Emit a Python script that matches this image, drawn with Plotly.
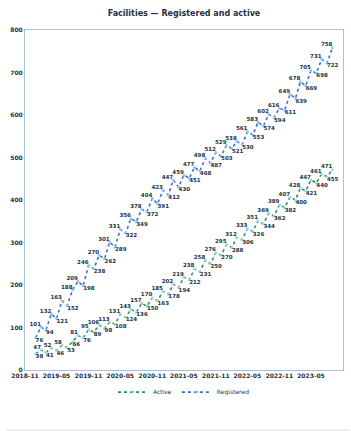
import pandas as pd
import plotly.graph_objects as go

# Monthly counts
months = pd.date_range("2019-01-01", periods=57, freq="MS")

registered = [76, 101, 94, 132, 121, 163, 152, 188, 209, 198, 246, 238, 270, 262, 301,
              289, 331, 322, 356, 349, 378, 372, 404, 391, 423, 412, 447, 430, 459, 451,
              477, 468, 498, 487, 512, 503, 529, 521, 538, 530, 561, 553, 583, 574, 602,
              594, 616, 611, 649, 639, 678, 669, 705, 698, 731, 722, 758]

active = [38, 47, 41, 52, 46, 58, 53, 66, 81, 76, 95, 89, 106, 98, 113, 108, 131, 124,
          143, 136, 157, 150, 170, 163, 185, 178, 202, 194, 219, 212, 238, 231, 258, 250,
          276, 270, 295, 288, 312, 306, 333, 326, 351, 344, 369, 362, 389, 382, 407, 400,
          428, 421, 447, 440, 461, 455, 471]

y_ticks = [0, 100, 200, 300, 400, 500, 600, 700, 800]

series = [
    ("Active", active, "#2e8b6e", "#9fdccc"),
    ("Registered", registered, "#3a6fc4", "#9cc6f0"),
]


def label_positions(vals):
    """Peaks get their label above-left, dips below-right."""
    out = []
    n = len(vals)
    for i in range(n):
        prev_v = vals[i - 1] if i > 0 else vals[i + 1]
        next_v = vals[i + 1] if i < n - 1 else vals[i - 1]
        peak = vals[i] >= (prev_v + next_v) / 2
        out.append("top left" if peak else "bottom right")
    return out


fig = go.Figure()
for name, vals, line_col, mark_col in series:
    fig.add_trace(go.Scatter(
        x=months, y=vals, name=name, mode="lines+markers",
        line=dict(color=line_col, width=1.6, dash="dot"),
        marker=dict(color=mark_col, size=3),
    ))
    fig.add_trace(go.Scatter(
        x=months, y=vals, mode="text", showlegend=False, hoverinfo="skip",
        text=["<b>%d</b>" % v for v in vals],
        textposition=label_positions(vals),
        textfont=dict(size=5.5, color="#223244", family="DejaVu Sans"),
    ))

fig.update_layout(
    width=351, height=431,
    margin=dict(l=25, r=8, t=30, b=61),
    paper_bgcolor="white", plot_bgcolor="white",
    font=dict(family="DejaVu Sans", size=7, color="#1f2f40"),
    title=dict(text="<b>Facilities — Registered and active</b>",
               x=0.5, xref="paper", xanchor="center",
               y=(431 - 13) / 431, yref="container", yanchor="middle",
               font=dict(size=8, color="#1f2f40")),
    legend=dict(orientation="h", x=0.5, xanchor="center", y=-0.065, yanchor="middle",
                font=dict(size=6), itemwidth=30, bgcolor="rgba(0,0,0,0)"),
    showlegend=True,
)
fig.update_xaxes(
    range=["2018-11-01", "2023-11-01"], dtick="M6", tick0="2018-11-01",
    tickformat="<b>%Y-%m</b>", tickfont=dict(size=6), showgrid=False, zeroline=False,
    showline=True, linecolor="#a9c1d9", linewidth=1, mirror=True, ticks="",
)
fig.update_yaxes(
    range=[0, 800], tickvals=y_ticks, ticktext=["<b>%d</b>" % v for v in y_ticks],
    tickfont=dict(size=6), showgrid=False,
    zeroline=False, showline=True, linecolor="#a9c1d9", linewidth=1, mirror=True, ticks="",
)
fig.add_shape(type="line", xref="paper", yref="paper",
              x0=(6 - 25) / 318, x1=(350 - 25) / 318, y0=-60 / 340, y1=-60 / 340,
              line=dict(color="#dddddd", width=1))

fig.write_html("out.html")
